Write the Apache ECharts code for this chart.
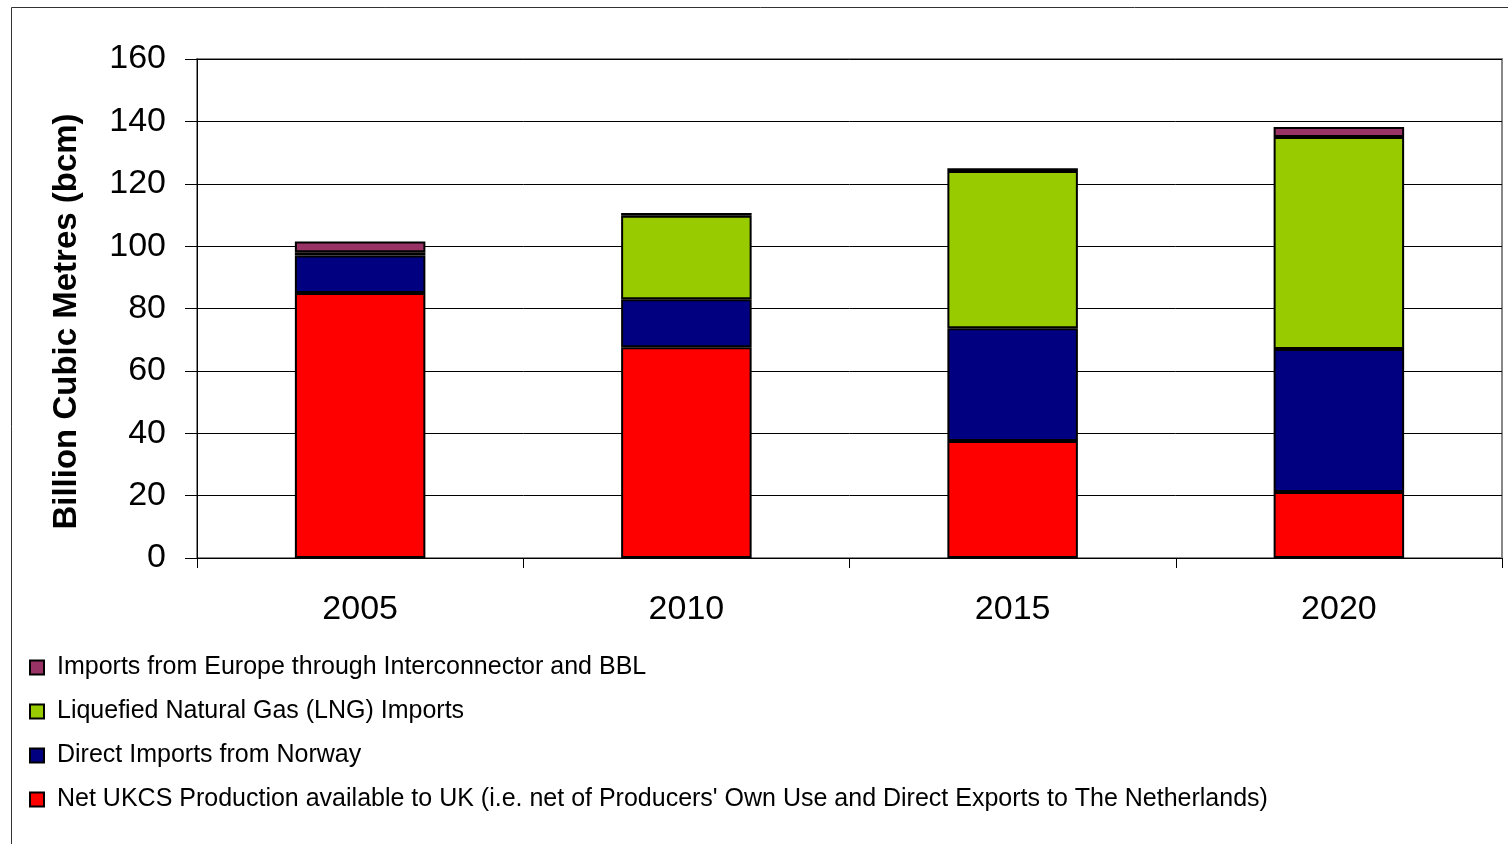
<!DOCTYPE html>
<html>
<head>
<meta charset="utf-8">
<script src="https://cdn.jsdelivr.net/npm/echarts@6/dist/echarts.min.js"></script>
<style>
  html, body { margin: 0; padding: 0; background: #fff; }
  #chart { width: 1508px; height: 844px; }
</style>
</head>
<body>
<div id="chart"></div>
<script>
// years on the x axis
var years = ['2005', '2010', '2015', '2020'];
// stacked supply sources, bcm
var ukcs = [85, 67.6, 37.5, 21.2];
var norway = [12, 15.4, 36.2, 45.8];
var lng = [1, 26.7, 50.4, 68];
var europe = [3.5, 0.9, 0.9, 3.2];
var yTicks = { min: 0, max: 160, step: 20 };

var seriesNames = [
    'Net UKCS Production available to UK (i.e. net of Producers\' Own Use and Direct Exports to The Netherlands)',
    'Direct Imports from Norway',
    'Liquefied Natural Gas (LNG) Imports',
    'Imports from Europe through Interconnector and BBL'
];
var colors = ['#FF0000', '#000080', '#99CC00', '#993366'];

function barSeries(name, data, color) {
    return {
        name: name,
        type: 'bar',
        stack: 'total',
        barWidth: '40%',
        data: data,
        itemStyle: { color: color, borderColor: '#000', borderWidth: 2 }
    };
}

var chart = echarts.init(document.getElementById('chart'));
chart.setOption({
    animation: false,
    textStyle: { fontFamily: 'Liberation Sans, Arial, sans-serif', color: '#000' },
    graphic: [{
        type: 'rect',
        shape: { x: 11.5, y: 7.5, width: 1600, height: 900 },
        style: { fill: 'none', stroke: '#333', lineWidth: 1 }
    }],
    grid: {
        left: 197, right: 6, top: 59, bottom: 286,
        show: true, borderColor: '#888', borderWidth: 2, backgroundColor: 'transparent'
    },
    legend: {
        orient: 'vertical',
        left: 29,
        top: 655,
        padding: 0,
        itemGap: 19,
        itemWidth: 14,
        itemHeight: 14,
        icon: 'rect',
        data: [seriesNames[3], seriesNames[2], seriesNames[1], seriesNames[0]],
        textStyle: { fontSize: 25, color: '#000', padding: [0, 0, 0, 8] }
    },
    xAxis: {
        type: 'category',
        data: years,
        axisLine: { lineStyle: { color: '#000', width: 1 } },
        axisTick: { show: true, length: 10, lineStyle: { color: '#000' } },
        axisLabel: { fontSize: 34, color: '#000', margin: 35 }
    },
    yAxis: {
        type: 'value',
        min: yTicks.min,
        max: yTicks.max,
        interval: yTicks.step,
        name: 'Billion Cubic Metres (bcm)',
        nameLocation: 'middle',
        nameGap: 114,
        nameTextStyle: { fontSize: 33, fontWeight: 'bold', color: '#000', padding: [0, 26, 0, 0] },
        axisLine: { show: true, lineStyle: { color: '#000', width: 1 } },
        axisTick: { show: true, length: 12, lineStyle: { color: '#000' } },
        axisLabel: { fontSize: 34, color: '#000', margin: 31 },
        splitLine: { lineStyle: { color: '#000', width: 1 } }
    },
    series: [
        barSeries(seriesNames[0], ukcs, colors[0]),
        barSeries(seriesNames[1], norway, colors[1]),
        barSeries(seriesNames[2], lng, colors[2]),
        barSeries(seriesNames[3], europe, colors[3])
    ]
});
</script>
</body>
</html>
